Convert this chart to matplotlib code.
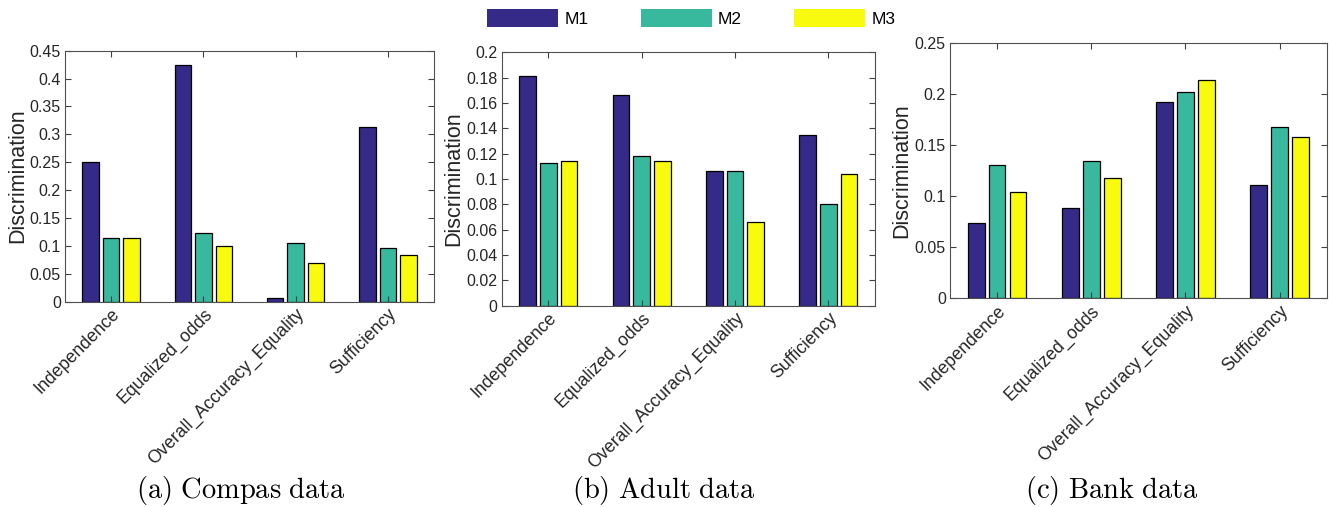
import numpy as np
from matplotlib import pyplot as plt
from matplotlib.patches import Patch

# 三个数据集的歧视度量对比（M1/M2/M3）

categories = ["Independence", "Equalized_odds", "Overall_Accuracy_Equality", "Sufficiency"]
models = ["M1", "M2", "M3"]

compas_m1 = [0.250, 0.424, 0.007, 0.314]
compas_m2 = [0.115, 0.124, 0.105, 0.096]
compas_m3 = [0.114, 0.100, 0.069, 0.083]

adult_m1 = [0.181, 0.166, 0.106, 0.135]
adult_m2 = [0.113, 0.118, 0.106, 0.080]
adult_m3 = [0.114, 0.114, 0.066, 0.104]

bank_m1 = [0.074, 0.088, 0.192, 0.111]
bank_m2 = [0.130, 0.134, 0.202, 0.168]
bank_m3 = [0.104, 0.118, 0.214, 0.158]

captions = ["(a) Compas data", "(b) Adult data", "(c) Bank data"]
colors = ["#352a87", "#38b99e", "#f9fb0e"]

plt.rcParams['font.family'] = ['Liberation Sans', 'DejaVu Sans']
plt.rcParams['mathtext.fontset'] = 'cm'

fig = plt.figure(figsize=(13.32, 5.07), dpi=100)

# 每个子图的位置 [left, bottom, width, height]
panels = [
    ([0.0488, 0.405, 0.277, 0.495], [compas_m1, compas_m2, compas_m3], 0.45, 0.05),
    ([0.3766, 0.397, 0.2803, 0.4998], [adult_m1, adult_m2, adult_m3], 0.2, 0.02),
    ([0.7132, 0.4116, 0.2828, 0.504], [bank_m1, bank_m2, bank_m3], 0.25, 0.05),
]
cap_x = [0.181, 0.498, 0.835]

x = np.arange(1, len(categories) + 1)
offset = 0.2222
width = 0.178

for i, (pos, series, ymax, step) in enumerate(panels):
    ax = fig.add_axes(pos)
    for j, vals in enumerate(series):
        ax.bar(x + (j - 1) * offset, vals, width, color=colors[j],
               edgecolor="black", linewidth=0.9)
    ax.set_xlim(0.5, 4.5)
    ax.set_ylim(0, ymax)
    yt = np.round(np.arange(0, ymax + step / 2, step), 4)
    ax.set_yticks(yt)
    ax.set_yticklabels(["{:g}".format(v) for v in yt], fontsize=11.5, color="#262626")
    ax.set_xticks(x)
    ax.set_xticklabels(categories, rotation=45, ha="right", rotation_mode="anchor",
                       fontsize=12.8, color="#262626")
    ax.tick_params(direction="in", length=4, width=0.8, color="#404040",
                   top=True, right=True, pad=3)
    for s in ax.spines.values():
        s.set_color("#505050")
        s.set_linewidth(0.8)
    ax.set_ylabel("Discrimination", fontsize=15.5, color="#262626")
    ax.yaxis.set_label_coords(-0.10, 0.5)
    fig.text(cap_x[i], 0.033, r"$\mathrm{" + captions[i].replace(" ", r"\ ") + "}$",
             fontsize=20.5, ha="center", va="center")

handles = [Patch(facecolor=c, edgecolor="none") for c in colors]
fig.legend(handles, models, loc="center", bbox_to_anchor=(0.519, 0.9645), ncol=3,
           frameon=False, fontsize=12.5, handlelength=4.1, handleheight=1.2,
           handletextpad=0.35, columnspacing=3.0)

plt.savefig("out.png", dpi=100)
